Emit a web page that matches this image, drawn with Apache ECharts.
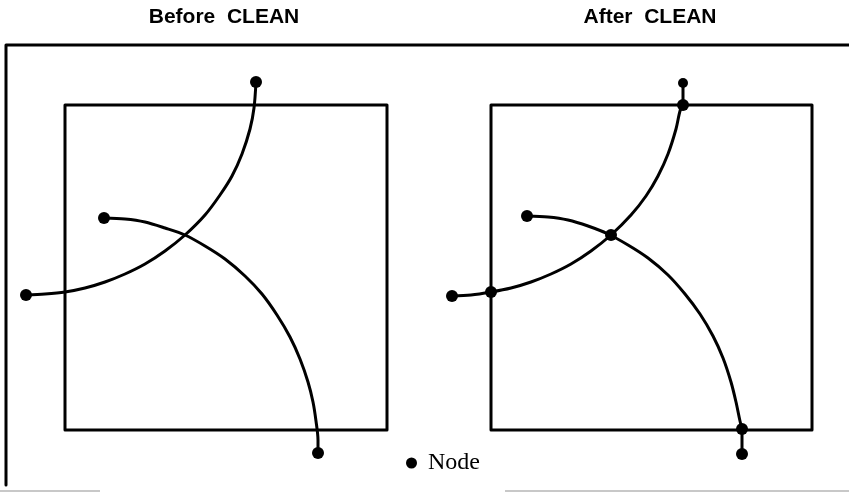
<!DOCTYPE html>
<html>
<head>
<meta charset="utf-8">
<script src="https://cdn.jsdelivr.net/npm/echarts@6/dist/echarts.min.js"></script>
<style>
  html, body { margin: 0; padding: 0; background: #fff; }
  #main { width: 849px; height: 493px; }
</style>
</head>
<body>
<div id="main"></div>
<script>
// diagram coordinates (x to the right, y downwards)
const frame = [[6, 485], [6, 45], [849, 45]];
const bottomEdge = [[0, 491], [100, 491], null, [505, 491], [849, 491]];

const boxBefore = [[65, 105], [387, 105], [387, 430], [65, 430], [65, 105]];
const boxAfter = [[491, 105], [812, 105], [812, 430], [491, 430], [491, 105]];

// Before CLEAN
const arcA1 = [[26, 295], [45, 294], [65, 292], [85, 288], [105, 282], [125, 274], [145, 264], [165, 251],
  [185, 235], [205, 215], [220, 195], [232, 176], [242, 154], [250, 129], [254, 108], [256, 82]];
const arcB1 = [[104, 218], [125, 219], [145, 222], [165, 228], [185, 235], [205, 246], [225, 259], [245, 276],
  [262, 294], [277, 315], [290, 337], [300, 359], [308, 382], [313, 402], [316, 421], [318, 440], [318, 453]];
const nodesBefore = [[26, 295], [256, 82], [104, 218], [318, 453]];

// After CLEAN
const arcA2 = [[452, 296], [471, 295], [491, 292], [511, 288], [531, 282], [551, 274], [571, 264], [591, 251],
  [611, 235], [631, 215], [646, 196], [658, 176], [668, 154], [676, 129], [680, 111], [683, 105]];
const stubTop = [[683, 105], [683, 83]];
const arcB2 = [[527, 216], [548, 217], [568, 220], [588, 226], [608, 234], [628, 245], [648, 258], [668, 275],
  [685, 294], [700, 314], [713, 336], [723, 358], [731, 382], [736, 402], [740, 421], [742, 429]];
const stubBottom = [[742, 429], [742, 454]];
const nodesAfter = [[452, 296], [491, 292], [683, 105], [527, 216], [611, 235], [742, 429], [742, 454]];
const nodesAfterSmall = [[683, 83]];

const titles = ['Before  CLEAN', 'After  CLEAN'];

const chart = echarts.init(document.getElementById('main'));

// 一条黑色折线/曲线
const stroke = (data, width = 3, smooth = false) => ({
  type: 'line',
  data,
  smooth,
  symbol: 'none',
  silent: true,
  z: 2,
  lineStyle: { color: '#000', width, cap: 'round', join: 'round' }
});

chart.setOption({
  animation: false,
  grid: { left: 0, right: 0, top: 0, bottom: 0 },
  xAxis: { type: 'value', min: 0, max: 849, show: false },
  yAxis: { type: 'value', min: 0, max: 493, inverse: true, show: false },
  legend: {
    data: [{ name: 'Node', icon: 'circle' }],
    left: 401,
    top: 446,
    itemWidth: 11,
    itemHeight: 12,
    itemGap: 8,
    textStyle: { fontFamily: 'Liberation Serif', fontSize: 24, color: '#000', padding: [0, 0, 0, 6] }
  },
  graphic: [
    { type: 'text', style: { x: 224, y: 17, text: titles[0], textAlign: 'center', textVerticalAlign: 'middle', font: 'bold 21px "Liberation Sans"', fill: '#000' } },
    { type: 'text', style: { x: 650, y: 17, text: titles[1], textAlign: 'center', textVerticalAlign: 'middle', font: 'bold 21px "Liberation Sans"', fill: '#000' } }
  ],
  series: [
    stroke(frame, 3),
    { ...stroke(bottomEdge, 2), lineStyle: { color: '#c8c8c8', width: 2 } },
    stroke(boxBefore, 3),
    stroke(boxAfter, 3),
    stroke(arcA1, 3, 0.3),
    stroke(arcB1, 3, 0.3),
    stroke(arcA2, 3, 0.3),
    stroke(arcB2, 3, 0.3),
    stroke(stubTop, 3),
    stroke(stubBottom, 3),
    {
      name: 'Node',
      type: 'scatter',
      data: nodesBefore.concat(nodesAfter),
      symbolSize: 12,
      itemStyle: { color: '#000', opacity: 1 },
      z: 5
    },
    {
      type: 'scatter',
      data: nodesAfterSmall,
      symbolSize: 10,
      itemStyle: { color: '#000', opacity: 1 },
      z: 5
    }
  ]
});
</script>
</body>
</html>
